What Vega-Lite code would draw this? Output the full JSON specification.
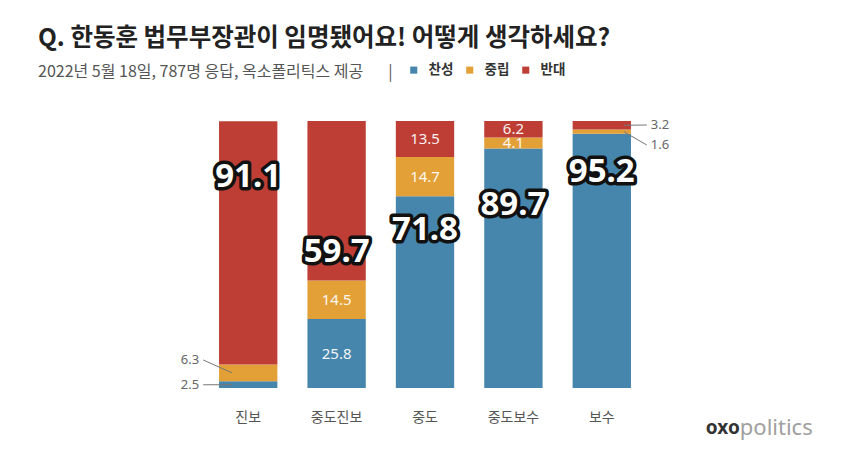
{
  "$schema": "https://vega.github.io/schema/vega-lite/v6.json",
  "width": 442,
  "height": 267,
  "autosize": {"type": "none"},
  "padding": {"left": 204, "top": 121, "right": 204, "bottom": 74},
  "background": "white",
  "config": {"font": "Noto Sans CJK KR", "view": {"stroke": null}},
  "title": {
    "text": "Q. 한동훈 법무부장관이 임명됐어요! 어떻게 생각하세요?",
    "subtitle": "2022년 5월 18일, 787명 응답, 옥소폴리틱스 제공\u00a0\u00a0\u00a0\u00a0\u00a0\u00a0\u00a0|",
    "anchor": "start",
    "frame": "group",
    "dx": -166,
    "offset": -18,
    "fontSize": 24.5,
    "fontWeight": "bold",
    "color": "#222222",
    "subtitleFontSize": 16,
    "subtitleColor": "#555555",
    "subtitlePadding": 13
  },
  "datasets": {
    "main": [
      {"group": "진보", "opinion": "찬성", "value": 2.5},
      {"group": "진보", "opinion": "중립", "value": 6.3},
      {"group": "진보", "opinion": "반대", "value": 91.1},
      {"group": "중도진보", "opinion": "찬성", "value": 25.8},
      {"group": "중도진보", "opinion": "중립", "value": 14.5},
      {"group": "중도진보", "opinion": "반대", "value": 59.7},
      {"group": "중도", "opinion": "찬성", "value": 71.8},
      {"group": "중도", "opinion": "중립", "value": 14.7},
      {"group": "중도", "opinion": "반대", "value": 13.5},
      {"group": "중도보수", "opinion": "찬성", "value": 89.7},
      {"group": "중도보수", "opinion": "중립", "value": 4.1},
      {"group": "중도보수", "opinion": "반대", "value": 6.2},
      {"group": "보수", "opinion": "찬성", "value": 95.2},
      {"group": "보수", "opinion": "중립", "value": 1.6},
      {"group": "보수", "opinion": "반대", "value": 3.2}
    ],
    "anchors": [
      {"id": "진보|반대", "at": 79},
      {"id": "중도진보|반대", "at": 51},
      {"id": "중도|찬성", "at": 59.2},
      {"id": "중도보수|찬성", "at": 68.5},
      {"id": "보수|찬성", "at": 80.9},
      {"id": "진보|중립", "at": 10.5},
      {"id": "진보|찬성", "at": 1.2},
      {"id": "보수|반대", "at": 98.5},
      {"id": "보수|중립", "at": 91}
    ]
  },
  "data": {"name": "main"},
  "transform": [
    {"stack": "value", "groupby": ["group"], "sort": [{"field": "opinion", "order": "descending"}], "as": ["y0", "y1"]},
    {"calculate": "(datum.y0 + datum.y1) / 2", "as": "mid"},
    {"calculate": "datum.group + '|' + datum.opinion", "as": "id"},
    {"lookup": "id", "from": {"data": {"name": "anchors"}, "key": "id", "fields": ["at"]}}
  ],
  "encoding": {
    "x": {
      "field": "group",
      "type": "nominal",
      "sort": ["진보", "중도진보", "중도", "중도보수", "보수"],
      "scale": {"paddingInner": 0.34, "paddingOuter": 0.17},
      "axis": {"title": null, "domain": false, "ticks": false, "labelAngle": 0, "labelFontSize": 14, "labelColor": "#555555", "labelPadding": 22}
    }
  },
  "layer": [
    {
      "mark": {"type": "bar"},
      "encoding": {
        "y": {"field": "y0", "type": "quantitative", "scale": {"domain": [0, 100], "nice": false}, "axis": null},
        "y2": {"field": "y1"},
        "color": {
          "field": "opinion",
          "type": "nominal",
          "scale": {"domain": ["찬성", "중립", "반대"], "range": ["#4685ac", "#e2a037", "#be3e36"]},
          "legend": {"orient": "none", "direction": "horizontal", "legendX": 203, "legendY": -58, "title": null, "symbolType": "square", "symbolSize": 50, "labelFontSize": 13.5, "labelFontWeight": "bold", "labelColor": "#333333", "columnPadding": 9, "labelOffset": 8}
        }
      }
    },
    {
      "transform": [{"filter": "datum.value < 50 && datum.group != '진보' && datum.group != '보수'"}],
      "mark": {"type": "text", "fontSize": 15, "color": "white", "opacity": 0.92, "baseline": "middle", "font": "Noto Sans"},
      "encoding": {
        "y": {"field": "mid", "type": "quantitative", "scale": {"domain": [0, 100], "nice": false}, "axis": null},
        "text": {"field": "value", "type": "quantitative", "format": ".1f"}
      }
    },
    {
      "transform": [{"filter": "datum.value > 50"}],
      "mark": {"type": "text", "fontSize": 33, "fontWeight": "bold", "font": "Noto Sans", "baseline": "middle", "fill": "#111111", "stroke": "#111111", "strokeWidth": 7, "strokeJoin": "round"},
      "encoding": {
        "y": {"field": "at", "type": "quantitative", "scale": {"domain": [0, 100], "nice": false}, "axis": null},
        "text": {"field": "value", "type": "quantitative", "format": ".1f"}
      }
    },
    {
      "transform": [{"filter": "datum.value > 50"}],
      "mark": {"type": "text", "fontSize": 33, "fontWeight": "bold", "font": "Noto Sans", "baseline": "middle", "fill": "white"},
      "encoding": {
        "y": {"field": "at", "type": "quantitative", "scale": {"domain": [0, 100], "nice": false}, "axis": null},
        "text": {"field": "value", "type": "quantitative", "format": ".1f"}
      }
    },
    {
      "transform": [{"filter": "datum.value < 50 && datum.group == '진보'"}],
      "mark": {"type": "rule", "xOffset": -45, "x2Offset": -16, "color": "#777777", "strokeWidth": 1},
      "encoding": {
        "x2": {"field": "group"},
        "y": {"field": "at", "type": "quantitative", "scale": {"domain": [0, 100], "nice": false}, "axis": null},
        "y2": {"field": "mid"}
      }
    },
    {
      "transform": [{"filter": "datum.value < 50 && datum.group == '진보'"}],
      "mark": {"type": "text", "align": "right", "baseline": "middle", "xOffset": -49, "fontSize": 13, "color": "#666666", "font": "Noto Sans"},
      "encoding": {
        "y": {"field": "at", "type": "quantitative", "scale": {"domain": [0, 100], "nice": false}, "axis": null},
        "text": {"field": "value", "type": "quantitative", "format": ".1f"}
      }
    },
    {
      "transform": [{"filter": "datum.value < 50 && datum.group == '보수'"}],
      "mark": {"type": "rule", "xOffset": 45, "x2Offset": 22, "color": "#777777", "strokeWidth": 1},
      "encoding": {
        "x2": {"field": "group"},
        "y": {"field": "at", "type": "quantitative", "scale": {"domain": [0, 100], "nice": false}, "axis": null},
        "y2": {"field": "mid"}
      }
    },
    {
      "transform": [{"filter": "datum.value < 50 && datum.group == '보수'"}],
      "mark": {"type": "text", "align": "left", "baseline": "middle", "xOffset": 49, "fontSize": 13, "color": "#666666", "font": "Noto Sans"},
      "encoding": {
        "y": {"field": "at", "type": "quantitative", "scale": {"domain": [0, 100], "nice": false}, "axis": null},
        "text": {"field": "value", "type": "quantitative", "format": ".1f"}
      }
    },
    {
      "data": {"values": [{"brand": "oxo"}]},
      "transform": [],
      "mark": {"type": "text", "align": "right", "baseline": "middle", "xOffset": 138, "fontSize": 19, "fontWeight": "bold", "color": "#333333", "font": "Noto Sans"},
      "encoding": {
        "x": {"datum": "보수"},
        "y": {"datum": -15, "type": "quantitative", "scale": {"domain": [0, 100], "nice": false}, "axis": null},
        "text": {"field": "brand"}
      }
    },
    {
      "data": {"values": [{"brand": "politics"}]},
      "transform": [],
      "mark": {"type": "text", "align": "left", "baseline": "middle", "xOffset": 138, "fontSize": 22, "color": "#a0a0a0", "font": "Noto Sans"},
      "encoding": {
        "x": {"datum": "보수"},
        "y": {"datum": -15, "type": "quantitative", "scale": {"domain": [0, 100], "nice": false}, "axis": null},
        "text": {"field": "brand"}
      }
    }
  ]
}
